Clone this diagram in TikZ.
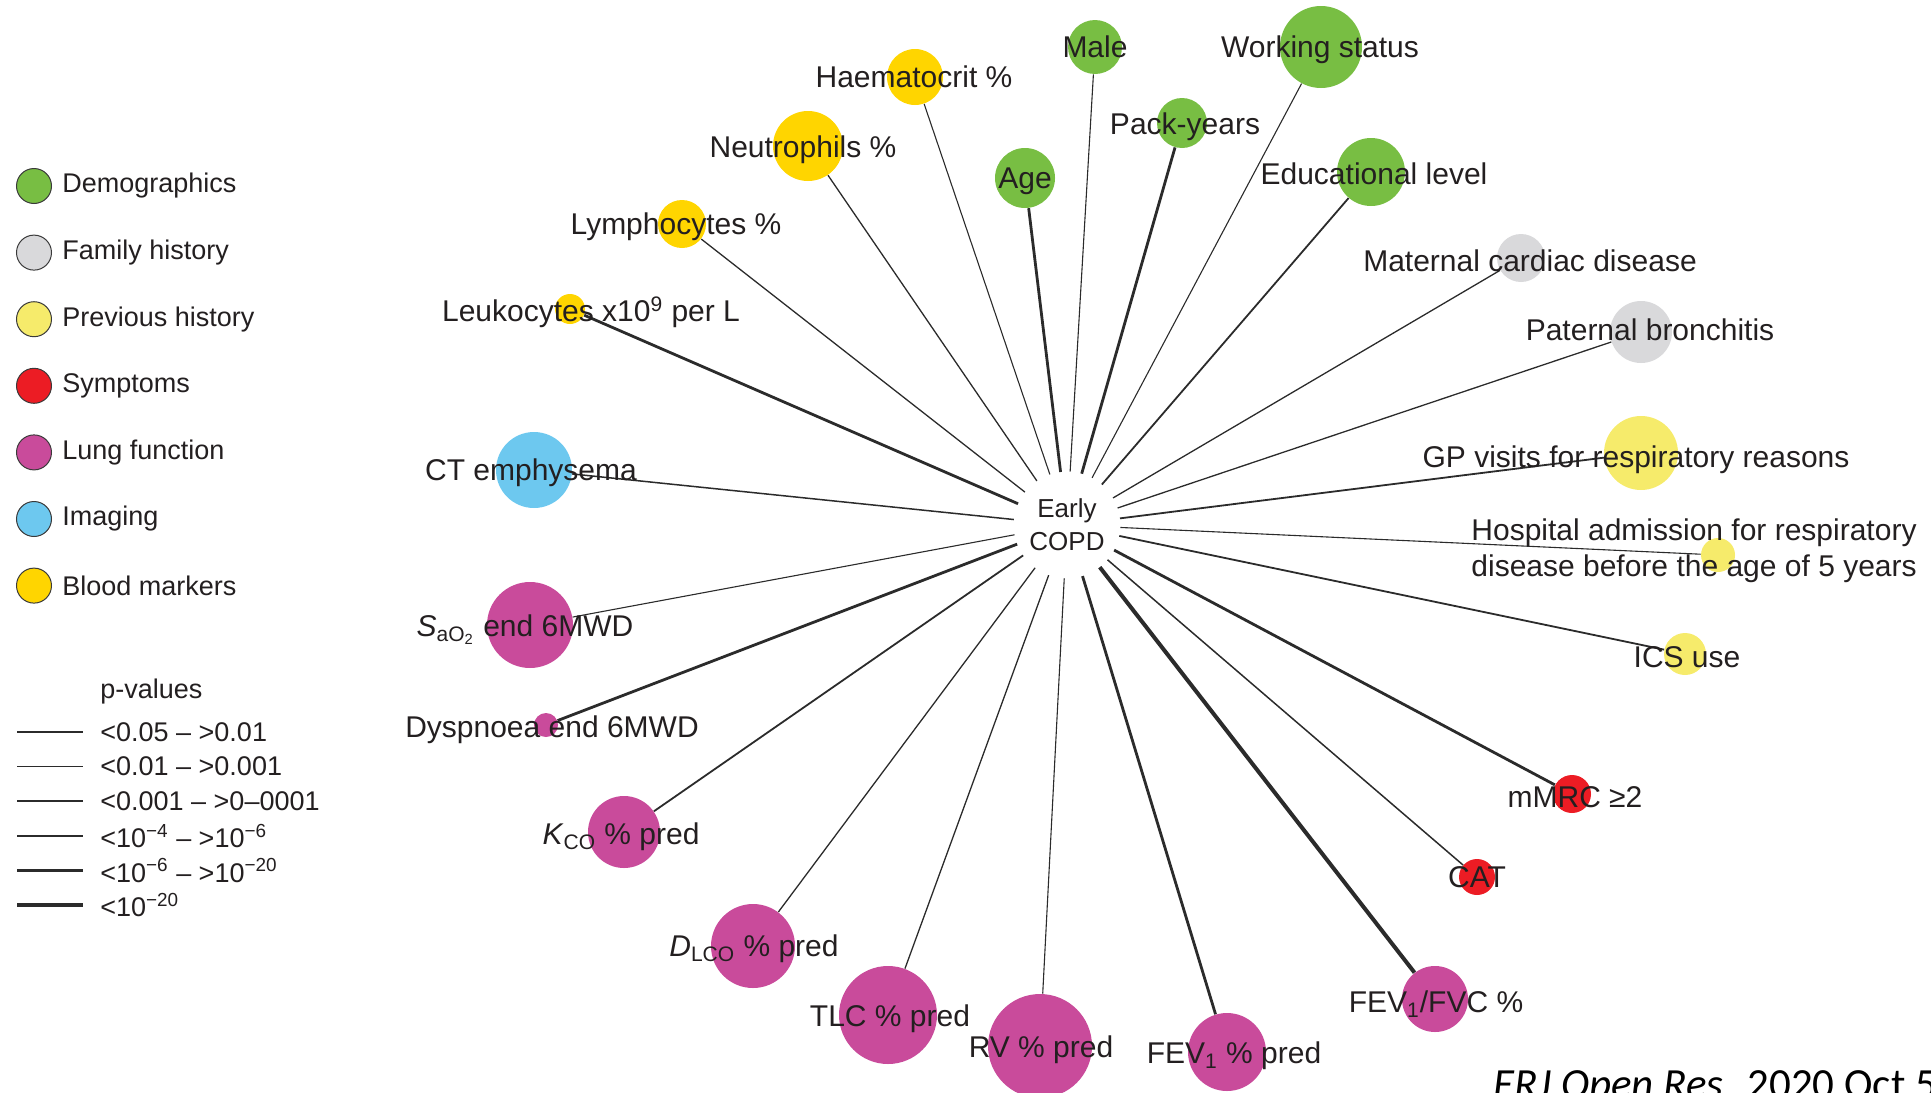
\documentclass[tikz,border=0pt]{standalone}
\usepackage{fontspec}
\setmainfont{Liberation Sans}
\newfontfamily\citefont{Carlito}
\usetikzlibrary{positioning}
\definecolor{demo}{HTML}{78BE43}
\definecolor{fam}{HTML}{D9D9DB}
\definecolor{prev}{HTML}{F6EB6B}
\definecolor{sym}{HTML}{EC1C24}
\definecolor{lung}{HTML}{C94B9B}
\definecolor{img}{HTML}{6DC8EF}
\definecolor{blood}{HTML}{FFD500}
\definecolor{ink}{HTML}{231F20}
\definecolor{edgecol}{HTML}{2B2B2B}
\definecolor{keyline}{HTML}{3A3A3A}

\begin{document}
\begin{tikzpicture}[x=0.5pt,y=-0.5pt,
  var/.style 2 args={circle,fill=#1,minimum size=#2,inner sep=0pt},
  key/.style={circle,fill=#1,draw=keyline,line width=0.5pt,minimum size=17.5pt,inner sep=0pt},
  lab/.style={font=\fontsize{15}{18}\selectfont,text=ink,inner sep=0pt,text depth=0pt},
  leglab/.style={font=\fontsize{13.5}{16}\selectfont,text=ink,inner sep=0pt},
  hub/.style={circle,minimum size=53pt,inner sep=0pt,align=center,text=ink,font=\fontsize{13}{16.5}\selectfont},
  pv/.style={draw=edgecol,line width=#1}]
\useasboundingbox (0,0) rectangle (1931,1092);
\node[hub] (copd) at (1067,525) {Early\\COPD};
\node[var={demo}{27pt}] (male) at (1095,47) {};
\node[var={demo}{41pt}] (work) at (1321,47) {};
\node[var={blood}{28pt}] (haem) at (915,77) {};
\node[var={blood}{35pt}] (neut) at (808,146) {};
\node[var={demo}{25pt}] (pack) at (1182,123) {};
\node[var={demo}{30pt}] (age) at (1025,178) {};
\node[var={demo}{34pt}] (edu) at (1371,172) {};
\node[var={blood}{24pt}] (lymph) at (682,224) {};
\node[var={blood}{15pt}] (leuko) at (570,309) {};
\node[var={fam}{24pt}] (mat) at (1521,258) {};
\node[var={fam}{31pt}] (pat) at (1641,332) {};
\node[var={img}{38pt}] (ct) at (534,470) {};
\node[var={prev}{37pt}] (gp) at (1641,453) {};
\node[var={prev}{17pt}] (hosp) at (1718,555) {};
\node[var={lung}{43pt}] (sao) at (530,625) {};
\node[var={prev}{21pt}] (ics) at (1685,654) {};
\node[var={lung}{12pt}] (dysp) at (546,725) {};
\node[var={sym}{19pt}] (mmrc) at (1572,794) {};
\node[var={lung}{36pt}] (kco) at (624,832) {};
\node[var={sym}{18pt}] (cat) at (1477,877) {};
\node[var={lung}{42pt}] (dlco) at (753,946) {};
\node[var={lung}{49pt}] (tlc) at (888,1015) {};
\node[var={lung}{52pt}] (rv) at (1040,1046) {};
\node[var={lung}{39pt}] (fev) at (1227,1052) {};
\node[var={lung}{33pt}] (ratio) at (1435,999) {};
\draw[pv=0.55pt](copd)--(haem) (copd)--(male) (copd)--(work) (copd)--(hosp) (copd)--(sao) (copd)--(rv);
\draw[pv=0.65pt](copd)--(neut) (copd)--(lymph) (copd)--(mat) (copd)--(pat) (copd)--(dlco) (copd)--(tlc);
\draw[pv=0.75pt](copd)--(ct) (copd)--(cat);
\draw[pv=0.9pt](copd)--(edu) (copd)--(gp) (copd)--(ics) (copd)--(kco);
\draw[pv=1.4pt](copd)--(pack) (copd)--(age) (copd)--(leuko) (copd)--(dysp) (copd)--(mmrc) (copd)--(fev);
\draw[pv=2pt](copd)--(ratio);
\node[lab] (male-t) at (male) {Male};
\node[lab] (work-t) at (1320,47) {Working status};
\node[lab] (haem-t) at (914,77) {Haematocrit \%};
\node[lab] (neut-t) at (803,147) {Neutrophils \%};
\node[lab] (pack-t) at (1185,124) {Pack-years};
\node[lab] (age-t) at (age) {Age};
\node[lab] (edu-t) at (1374,174) {Educational level};
\node[lab] (lymph-t) at (676,224) {Lymphocytes \%};
\node[lab] (leuko-t) at (591,309) {Leukocytes x10\textsuperscript{9} per L};
\node[lab] (mat-t) at (1530,261) {Maternal cardiac disease};
\node[lab] (pat-t) at (1650,330) {Paternal bronchitis};
\node[lab] (ct-t) at (531,470) {CT emphysema};
\node[lab] (gp-t) at (1636,457) {GP visits for respiratory reasons};
\node[lab,text depth=,anchor=west,align=left] (hosp-t) at (1471,551) {Hospital admission for respiratory\\disease before the age of 5 years};
\node[lab] (sao-t) at (525,626) {\textit{S}\textsubscript{aO\textsubscript{2}} end 6MWD};
\node[lab] (ics-t) at (1687,657) {ICS use};
\node[lab] (dysp-t) at (552,727) {Dyspnoea end 6MWD};
\node[lab] (mmrc-t) at (1575,797) {mMRC ≥2};
\node[lab] (kco-t) at (621,834) {\textit{K}\textsubscript{CO} \% pred};
\node[lab] (cat-t) at (cat) {CAT};
\node[lab] (dlco-t) at (754,946) {\textit{D}\textsubscript{LCO} \% pred};
\node[lab] (tlc-t) at (890,1016) {TLC \% pred};
\node[lab] (rv-t) at (1041,1047) {RV \% pred};
\node[lab] (fev-t) at (1234,1053) {FEV\textsubscript{1} \% pred};
\node[lab] (ratio-t) at (1436,1002) {FEV\textsubscript{1}/FVC \%};
\foreach \col/\txt [count=\i] in {demo/Demographics,fam/Family history,prev/Previous history,sym/Symptoms,lung/Lung function,img/Imaging,blood/Blood markers}{
  \node[key=\col] (key\i) at (34,119.4+66.6*\i) {};
  \node[leglab,right=5pt of key\i] (key\i-t) {\txt};
}
\node[leglab,anchor=west] (pval) at (100,692) {p-values};
\foreach \w/\txt [count=\i] in {0.55pt/<0.05 – >0.01,0.65pt/<0.01 – >0.001,0.75pt/<0.001 – >0–0001,0.9pt/<10\textsuperscript{−4} – >10\textsuperscript{−6},1.4pt/<10\textsuperscript{−6} – >10\textsuperscript{−20},2pt/<10\textsuperscript{−20}}{
  \coordinate (ps\i) at (17,697.4+34.6*\i);
  \coordinate (pe\i) at (83,697.4+34.6*\i);
  \draw[pv=\w] (ps\i)--(pe\i);
  \node[leglab,right=8.5pt of pe\i] (pv\i-t) {\txt};
}
\node[anchor=base west,inner sep=0pt,font=\citefont\fontsize{21.5}{24}\selectfont] (src) at (1493,1098) {\textit{ERJ Open Res.} 2020 Oct 5};
\end{tikzpicture}
\end{document}
